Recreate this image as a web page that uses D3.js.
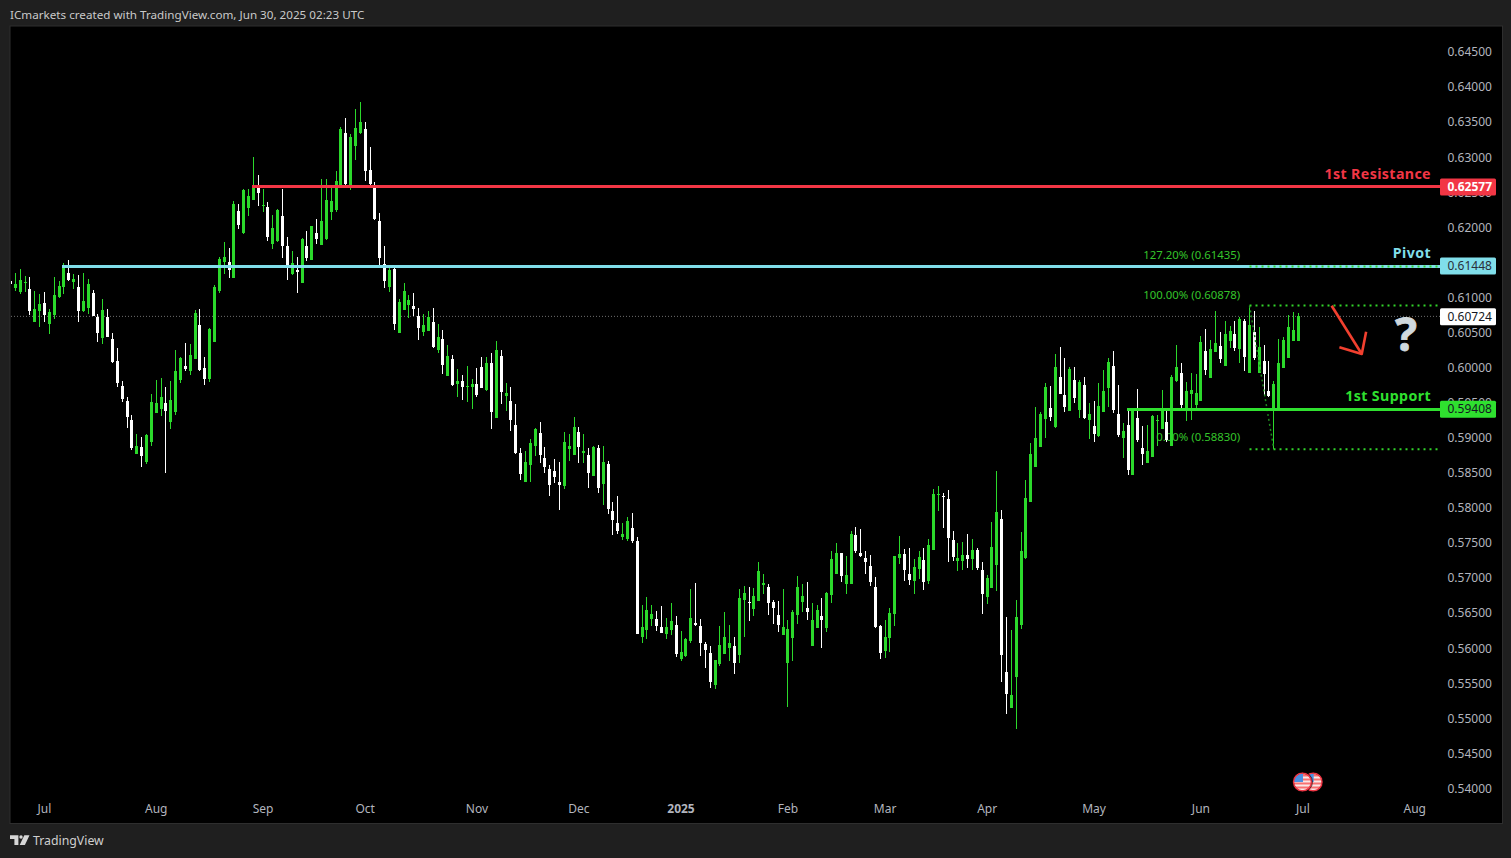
<!DOCTYPE html>
<html><head><meta charset="utf-8">
<script src="https://cdn.jsdelivr.net/npm/d3@7/dist/d3.min.js"></script>
<style>
html,body{margin:0;padding:0;background:#1f1f1f;overflow:hidden}
svg{display:block}
text{font-family:"Noto Sans",sans-serif}
</style></head><body>
<svg id="c" width="1511" height="858"></svg>
<script>
const high=[.61470,.61342,.61399,.61299,.61285,.61086,.61043,.61071,.60829,.61285,
.61228,.61485,.61528,.61328,.61314,.61342,.61257,.61100,.60757,.60971,
.60829,.60487,.60273,.59803,.59574,.59318,.59047,.59004,.59047,.59617,
.59817,.59845,.59717,.59803,.60244,.60144,.60344,.60330,.60815,.60829,
.60144,.60558,.61171,.61570,.61784,.61698,.62369,.62326,.62540,.62540,
.62996,.62739,.62540,.62354,.62169,.62255,.62540,.61855,.61656,.61570,
.61841,.61941,.62012,.62112,.62682,.62682,.62597,.62796,.63424,.63552,
.63324,.63680,.63780,.63495,.63138,.62639,.62198,.61727,.61456,.61413,
.60971,.61200,.61028,.61057,.60843,.60758,.60800,.60843,.60615,.60530,
.60316,.60173,.59974,.59888,.60016,.59831,.59988,.60144,.60144,.60201,
.60372,.60244,.59773,.59716,.59474,.58847,.58804,.58975,.59132,.59217,
.58861,.58604,.58690,.58647,.59075,.59046,.59289,.59146,.59046,.58847,
.58875,.58890,.58875,.58661,.58077,.58162,.57778,.57863,.57920,.57578,
.56608,.56723,.56608,.56523,.56594,.56423,.56637,.56452,.56238,.56138,
.56837,.56922,.56409,.56081,.56024,.55824,.56309,.56509,.56323,.56152,
.56837,.56880,.56865,.56851,.57222,.57050,.56908,.56680,.56665,.56837,
.56395,.56537,.57022,.56908,.56936,.56637,.56608,.56708,.56794,.57378,
.57492,.57350,.57307,.57663,.57720,.57692,.57378,.57321,.57008,.56323,
.56395,.56566,.57307,.57592,.57407,.57421,.57264,.57378,.57421,.57549,
.58262,.58305,.58205,.58248,.57663,.57492,.57507,.57621,.57549,.57421,
.57222,.57036,.57792,.58519,.57963,.56437,.56252,.56680,.57650,.58392,
.58919,.59432,.59361,.59774,.59731,.60188,.60287,.60131,.60002,.60002,
.59817,.59860,.59489,.59518,.59774,.59960,.60131,.60230,.59746,.59199,
.59404,.59404,.59689,.59161,.59175,.59318,.59318,.59674,.59418,.59888,
.60316,.60059,.59788,.59917,.59903,.60444,.60544,.60387,.60801,.60501,
.60658,.60587,.60658,.60715,.60687,.60878,.60801,.60572,.60316,.60088,
.59803,.60401,.60430,.60744,.60786,.60772];
const low=[.61114,.61086,.61043,.61071,.60743,.60644,.60573,.60644,.60473,.60686,
.60986,.61043,.61228,.61114,.60644,.60786,.60757,.60729,.60358,.60330,
.60430,.60059,.59717,.59503,.59132,.58819,.58762,.58576,.58619,.58876,
.59346,.59304,.58491,.59118,.59318,.59773,.59945,.59888,.60116,.59945,
.59745,.59788,.60358,.61057,.61328,.61271,.61271,.61969,.61898,.62155,
.62383,.62297,.62212,.61798,.61684,.61784,.61556,.61242,.61314,.61057,
.61200,.61513,.61528,.61755,.61741,.61813,.62098,.62212,.62597,.62597,
.62525,.62953,.63324,.62654,.62582,.62098,.61456,.61128,.61071,.60530,
.60487,.60815,.60701,.60729,.60387,.60444,.60515,.60273,.60202,.59902,
.59874,.59731,.59574,.59532,.59503,.59403,.59574,.59702,.59659,.59118,
.59274,.59474,.59374,.59089,.58761,.58391,.58362,.58362,.58733,.58633,
.58490,.58162,.58348,.57963,.58262,.58661,.58747,.58633,.58633,.58277,
.58448,.58205,.58034,.57906,.57607,.57621,.57535,.57521,.57493,.56195,
.56067,.56124,.56309,.56238,.56210,.56124,.56181,.55867,.55810,.55867,
.56067,.56309,.55881,.55710,.55425,.55411,.55739,.55910,.55810,.55625,
.55782,.56152,.56380,.56452,.56665,.56766,.56466,.56338,.56224,.56181,
.55154,.55810,.56338,.56509,.56395,.56024,.56281,.55995,.56224,.56637,
.57050,.56936,.56766,.56908,.57350,.57293,.57050,.56879,.56281,.55839,
.55853,.55938,.56309,.57193,.56951,.56894,.56766,.56979,.56822,.56908,
.57392,.57949,.57706,.57221,.57236,.57093,.57107,.57136,.57107,.57107,
.56480,.56623,.56851,.56808,.55511,.55055,.55140,.54841,.56266,.57265,
.58078,.58577,.58862,.58990,.59232,.59133,.59617,.59361,.59375,.59489,
.59275,.59261,.58976,.58933,.59004,.59361,.59432,.59347,.59004,.58705,
.58463,.58463,.58933,.58605,.58634,.58719,.58876,.59118,.58933,.58876,
.59788,.59404,.59232,.59247,.59418,.59518,.59888,.59845,.60216,.60059,
.60017,.60273,.60230,.60059,.59945,.59917,.60102,.59917,.59589,.59575,
.58833,.59404,.59988,.60131,.60373,.60373];
const open=[.61228,.61128,.61071,.61200,.61114,.60644,.60800,.60914,.60615,.60743,
.61000,.61143,.61342,.61214,.61143,.60800,.60843,.61057,.60714,.60415,
.60714,.60401,.60087,.59731,.59517,.59246,.58762,.58862,.58648,.58933,
.59346,.59403,.59489,.59218,.59361,.59817,.60016,.59945,.60116,.60601,
.59988,.59831,.60358,.61086,.61499,.61499,.61271,.62226,.61912,.62269,
.62383,.62554,.62297,.62283,.61755,.61798,.62155,.61727,.61328,.61385,
.61200,.61727,.61528,.61912,.61741,.61827,.62212,.62240,.62597,.63338,
.62597,.63153,.63338,.63395,.62810,.62568,.62083,.61470,.61143,.61399,
.60487,.60815,.60886,.60872,.60729,.60501,.60515,.60644,.60245,.60401,
.59874,.60116,.59760,.59803,.59717,.59717,.59760,.60002,.59674,.60059,
.59274,.60158,.59588,.59517,.59175,.58775,.58362,.58605,.58875,.59061,
.58704,.58547,.58519,.58362,.58305,.58833,.58747,.59075,.58775,.58747,
.58448,.58847,.58334,.58619,.57949,.57778,.57578,.57550,.57706,.57521,
.56152,.56252,.56409,.56409,.56295,.56195,.56252,.56324,.55839,.55881,
.56095,.56352,.56309,.56052,.55924,.55468,.55767,.55910,.55995,.56024,
.55896,.56680,.56651,.56552,.56665,.56893,.56865,.56651,.56466,.56181,
.55782,.56138,.56466,.56651,.56566,.56024,.56281,.56452,.56281,.56751,
.57050,.57350,.56908,.56908,.57606,.57350,.57279,.57164,.56865,.56309,
.55953,.56138,.56480,.57279,.57335,.57050,.56951,.57122,.57250,.56951,
.57392,.58177,.58162,.58120,.57535,.57236,.57236,.57321,.57264,.57392,
.57107,.56722,.56851,.57179,.57834,.55653,.55140,.55582,.56323,.57279,
.58078,.58577,.58862,.59261,.59418,.59147,.59860,.59603,.59375,.59817,
.59389,.59746,.59247,.59161,.59019,.59361,.59703,.60017,.59332,.58990,
.59175,.58463,.59275,.58848,.58634,.58719,.59232,.59118,.59218,.58876,
.59803,.59917,.59418,.59617,.59461,.59518,.60230,.59845,.60216,.60302,
.60017,.60373,.60473,.60259,.60658,.59917,.60501,.59917,.60088,.59660,
.59404,.59404,.59988,.60131,.60373,.60373];
const close=[.61185,.61185,.61242,.61214,.60800,.60829,.60900,.60743,.60786,.61028,
.61157,.61442,.61242,.61257,.60800,.60943,.61185,.60729,.60487,.60815,
.60430,.60073,.59773,.59546,.59289,.58847,.58876,.58733,.59033,.59503,
.59489,.59574,.59375,.59532,.59945,.60130,.59973,.60173,.60772,.59959,
.59831,.60544,.61143,.61542,.61570,.61385,.62326,.62026,.62525,.62440,
.62582,.62483,.62312,.61855,.61984,.62240,.61727,.61428,.61485,.61356,
.61827,.61556,.62012,.61827,.62083,.62383,.62369,.62654,.63395,.62611,
.63281,.63409,.63495,.62796,.62611,.62112,.61556,.61228,.61385,.60615,
.60929,.61086,.60957,.60829,.60558,.60601,.60714,.60287,.60430,.60031,
.60159,.59745,.59803,.59717,.59731,.59760,.59603,.59702,.60059,.59360,
.60244,.59645,.59631,.59246,.58775,.58476,.58647,.58918,.59118,.58747,
.58576,.58319,.58433,.58319,.58932,.58875,.59146,.58861,.58804,.58490,
.58861,.58277,.58647,.57977,.57820,.57663,.57621,.57806,.57521,.56195,
.56295,.56537,.56480,.56309,.56210,.56295,.56381,.55910,.55939,.56124,
.56423,.56323,.56067,.55967,.55511,.55824,.56038,.56152,.56067,.55782,
.56708,.56780,.56637,.56737,.57093,.56922,.56637,.56566,.56323,.56295,
.56266,.56509,.56865,.56737,.56509,.56395,.56537,.56395,.56780,.57264,
.57350,.57022,.57036,.57621,.57378,.57307,.57221,.56936,.56295,.55924,
.56152,.56495,.57307,.57335,.57107,.56965,.57150,.57293,.56936,.57464,
.58191,.58191,.58148,.57564,.57293,.57279,.57321,.57264,.57392,.57136,
.56765,.56993,.57435,.57934,.55896,.55340,.55325,.56437,.57379,.58135,
.58762,.58990,.59332,.59717,.59289,.60002,.59617,.59432,.59974,.59560,
.59788,.59275,.59332,.59047,.59446,.59660,.60074,.59389,.59033,.59090,
.58534,.59389,.58962,.58762,.58805,.59304,.59247,.59389,.58962,.59860,
.60002,.59461,.59660,.59674,.59632,.60359,.59960,.60259,.60344,.60116,
.60473,.60515,.60273,.60687,.60145,.60601,.60131,.60287,.59902,.59589,
.59760,.60059,.60387,.60572,.60530,.60724];

const monthBars=[7,30,52,73,96,117,138,160,180,201,223,245,266,289];
const monthLabels=["Jul","Aug","Sep","Oct","Nov","Dec","2025","Feb","Mar","Apr","May","Jun","Jul","Aug"];
const priceTicks=d3.range(0.54,0.6451,0.005);
const levelNames=["1st Resistance","Pivot","1st Support"];
const levelPrices=[0.62577,0.61448,0.59408];
const levelStartBars=[49.7,10.7,229.8];
const levelColors=["#f23645","#80deea","#2fe02f"];
const levelLabelText=["#ffffff","#2a2e39","#131722"];
const fibNames=["127.20%","100.00%","0.00%"];
const fibPrices=[0.61435,0.60878,0.58830];
const fibStartBar=255;
const swingBars=[255,260], swingPrices=[0.60878,0.58830];
const arrowBars=[271.9,278.1], arrowPrices=[0.60876,0.60187];
const arrowBarbs=[[279,0.60505],[273.5,0.60283]];
const lastPrice=0.60724;
const eventBars=[268.1,265.9];

const W=1511,H=858,L=11,R=1440,T=27,B=822;
const y=d3.scaleLinear().domain([0.54,0.645]).range([788,51.5]);
const x=d3.scaleLinear().domain([0,265]).range([10.47,1298.1]);
const svg=d3.select("#c");

svg.append("rect").attr("width",W).attr("height",H).attr("fill","#1f1f1f");
svg.append("rect").attr("x",10).attr("y",26).attr("width",1492.5).attr("height",797.5)
 .attr("fill","#000").attr("stroke","#2e2e2e").attr("stroke-width",1);
svg.append("defs").append("clipPath").attr("id","pane").append("rect")
 .attr("x",L).attr("y",T).attr("width",R-L).attr("height",B-T);

// header / footer
svg.append("text").attr("x",10).attr("y",19).attr("font-size",11.67).attr("fill","#c9c9c9")
 .text("ICmarkets created with TradingView.com, Jun 30, 2025 02:23 UTC");
const logo=svg.append("g").attr("fill","#d6d6d6");
logo.append("path").attr("d","M10 835.3h8.4v9.7h-4v-6h-4.4z");
logo.append("circle").attr("cx",21).attr("cy",837).attr("r",1.7);
logo.append("path").attr("d","M24.3 835.3h5.2l-4.6 9.7h-5.2z");
svg.append("text").attr("x",33).attr("y",845).attr("font-size",12.3).attr("fill","#cfcfcf").text("TradingView");

// axes
const yAxis=d3.axisRight(y).tickValues(priceTicks).tickSize(0).tickPadding(0).tickFormat(d3.format(".5f"));
const gy=svg.append("g").attr("transform","translate(1447.5,0.5)").call(yAxis);
gy.select(".domain").remove();
gy.selectAll("text").attr("font-size",12).attr("fill","#b2b5be").style("font-family",'"Noto Sans",sans-serif');

const xAxis=d3.axisBottom(x).tickValues(monthBars).tickSize(0).tickPadding(0)
 .tickFormat(d=>monthLabels[monthBars.indexOf(d)]);
const gx=svg.append("g").attr("transform","translate(-0.5,804)").call(xAxis);
gx.select(".domain").remove();
gx.selectAll("text").attr("font-size",12).attr("fill","#b2b5be").style("font-family",'"Noto Sans",sans-serif')
 .attr("font-weight",d=>monthLabels[monthBars.indexOf(d)]==="2025"?"700":"400");

const pane=svg.append("g").attr("clip-path","url(#pane)");

// last price
pane.append("line").attr("x1",L).attr("x2",R).attr("y1",y(lastPrice)).attr("y2",y(lastPrice))
 .attr("stroke","#6f6f6f").attr("stroke-width",1).attr("stroke-dasharray","1 2");

// fib labels behind candles
pane.selectAll("text.fib").data(fibNames).join("text").attr("class","fib")
 .attr("x",x(253.1)).attr("y",(d,i)=>y(fibPrices[i])-(i===0?7.5:i===1?7:8))
 .attr("text-anchor","end").attr("font-size",11.4).attr("fill","#35c42b")
 .text((d,i)=>`${d} (${fibPrices[i].toFixed(5)})`);

// candles
const bars=d3.range(high.length);
const col=i=>close[i]>=open[i]?"#2bd92b":"#ffffff";
pane.append("g").attr("shape-rendering","crispEdges").selectAll("rect").data(bars).join("rect")
 .attr("x",i=>Math.round(x(i)-.5)).attr("width",1)
 .attr("y",i=>y(high[i])).attr("height",i=>Math.max(1,y(low[i])-y(high[i]))).attr("fill",col);
pane.append("g").attr("shape-rendering","crispEdges").selectAll("rect").data(bars).join("rect")
 .attr("x",i=>Math.round(x(i)-.5)-1).attr("width",3)
 .attr("y",i=>y(Math.max(open[i],close[i])))
 .attr("height",i=>Math.max(1,y(Math.min(open[i],close[i]))-y(Math.max(open[i],close[i])))).attr("fill",col);

// swing dotted
pane.append("line").attr("x1",x(swingBars[0])).attr("x2",x(swingBars[1])).attr("y1",y(swingPrices[0])).attr("y2",y(swingPrices[1]))
 .attr("stroke","#1f8a1f").attr("stroke-width",1.5).attr("stroke-dasharray","2 3");

// level lines
pane.selectAll("line.level").data(levelPrices).join("line").attr("class","level")
 .attr("shape-rendering","crispEdges")
 .attr("x1",(d,i)=>x(levelStartBars[i])).attr("x2",R).attr("y1",d=>y(d)+.5).attr("y2",d=>y(d)+.5)
 .attr("stroke",(d,i)=>levelColors[i]).attr("stroke-width",3);

// fib dotted lines
pane.selectAll("line.fibl").data(fibPrices).join("line").attr("class","fibl")
 .attr("x1",x(fibStartBar)).attr("x2",R-2).attr("y1",d=>y(d)).attr("y2",d=>y(d))
 .attr("stroke","#32d32a").attr("stroke-width",2).attr("stroke-dasharray","2 4");

// level labels
pane.selectAll("text.lvl").data(levelNames).join("text").attr("class","lvl")
 .attr("x",1431).attr("y",(d,i)=>y(levelPrices[i])-7.5).attr("text-anchor","end")
 .attr("font-size",14.2).attr("font-weight",700).attr("letter-spacing",.4)
 .attr("fill",(d,i)=>i===2?"#2fe02f":levelColors[i]).text(d=>d);

// arrow
pane.append("path").attr("fill","none").attr("stroke","#f2402f").attr("stroke-width",2.6).attr("stroke-linejoin","round")
 .attr("d",`M${x(arrowBars[0])} ${y(arrowPrices[0])}L${x(arrowBars[1])} ${y(arrowPrices[1])}`);
pane.append("path").attr("fill","none").attr("stroke","#f2402f").attr("stroke-width",2.6).attr("stroke-linejoin","round")
 .attr("d",`M${x(arrowBarbs[0][0])} ${y(arrowBarbs[0][1])}L${x(arrowBars[1])} ${y(arrowPrices[1])}L${x(arrowBarbs[1][0])} ${y(arrowBarbs[1][1])}`);
pane.append("text").attr("x",1406).attr("y",351).attr("text-anchor","middle").attr("font-size",46).attr("font-weight",700)
 .attr("fill","#d0d8dd").attr("stroke","#d0d8dd").attr("stroke-width",.8).text("?");

// event flags
const ev=svg.append("g");
eventBars.forEach((b,k)=>{
 const cx=x(b),cy=782,id="fl"+k;
 const g=ev.append("g");
 g.append("clipPath").attr("id",id).append("circle").attr("cx",cx).attr("cy",cy).attr("r",8.6);
 const f=g.append("g").attr("clip-path",`url(#${id})`);
 f.append("rect").attr("x",cx-9).attr("y",cy-9).attr("width",18).attr("height",18).attr("fill","#f87171");
 [-5.5,-1.5,2.5,6.5].forEach(o=>f.append("rect").attr("x",cx-9).attr("y",cy+o).attr("width",18).attr("height",2).attr("fill","#f8e8e8"));
 f.append("rect").attr("x",cx-9).attr("y",cy-9).attr("width",9.5).attr("height",9).attr("fill","#4a90e2");
 g.append("circle").attr("cx",cx).attr("cy",cy).attr("r",9).attr("fill","none").attr("stroke","#f23645").attr("stroke-width",1.6);
 g.append("circle").attr("cx",cx).attr("cy",cy).attr("r",10).attr("fill","none").attr("stroke","#000").attr("stroke-width",.6);
});

// price tags
const tags=[0,1,2].map(i=>({p:levelPrices[i],c:levelColors[i],t:levelLabelText[i]}));
tags.splice(2,0,{p:lastPrice,c:"#ffffff",t:"#131722"});
const tg=svg.append("g").selectAll("g").data(tags).join("g").attr("transform",d=>`translate(1440,${y(d.p)+.5})`);
tg.append("rect").attr("x",0).attr("y",-8.5).attr("width",56).attr("height",17).attr("rx",1.5).attr("fill",d=>d.c);
tg.append("text").attr("x",7.5).attr("y",4.3).attr("font-size",12).attr("font-weight",d=>d.c==="#f23645"?700:400)
 .attr("fill",d=>d.t).text(d=>d.p.toFixed(5));
</script>
</body></html>
